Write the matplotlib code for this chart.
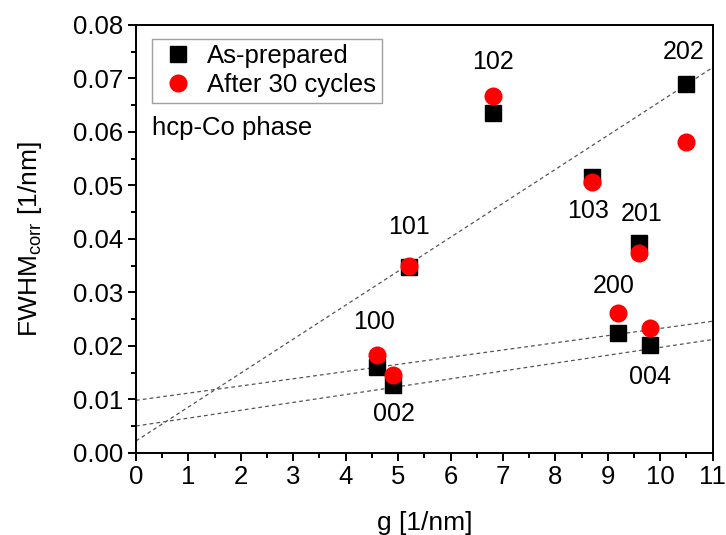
import matplotlib
matplotlib.use("Agg")
import matplotlib.pyplot as plt
from matplotlib.ticker import MultipleLocator

plt.rcParams['font.family'] = ['Liberation Sans', 'DejaVu Sans']
plt.rcParams['mathtext.fontset'] = 'custom'
plt.rcParams['mathtext.rm'] = 'Liberation Sans'

# --- Data ---------------------------------------------------------------------
reflections = ["100", "002", "101", "102", "103", "200", "201", "004", "202"]
g_values    = [4.6, 4.9, 5.2, 6.8, 8.7, 9.2, 9.6, 9.8, 10.5]
fwhm_asprep = [0.0160, 0.0127, 0.0347, 0.0635, 0.0515, 0.0224, 0.0393, 0.0201, 0.0690]
fwhm_cycled = [0.0182, 0.0145, 0.0350, 0.0668, 0.0507, 0.0262, 0.0374, 0.0234, 0.0582]

# fitted guide lines (intercept, slope)
fit_lines = [(0.0022, 0.00635), (0.0098, 0.001345), (0.0050, 0.00147)]

# label positions for each reflection (g, fwhm)
label_pos = {"100": (4.55, 0.0245), "002": (4.92, 0.0072), "101": (5.2, 0.0422),
             "102": (6.8, 0.0731), "103": (8.63, 0.0452), "200": (9.12, 0.0312),
             "201": (9.65, 0.0446), "004": (9.8, 0.0141), "202": (10.45, 0.0749)}

# --- Plot ---------------------------------------------------------------------
fig = plt.figure(figsize=(7.26, 5.35), dpi=100)
ax = fig.add_axes([0.1873, 0.1538, 0.7944, 0.7995])

xs = [0, 11]
for b, m in fit_lines:
    ax.plot(xs, [b + m * x for x in xs], color="#555555", linewidth=0.9,
            linestyle=(0, (3, 2.5)), zorder=1)

ax.plot(g_values, fwhm_asprep, "s", color="black", markersize=12,
        label="As-prepared", zorder=2)
ax.plot(g_values, fwhm_cycled, "o", color="red", markersize=13,
        markeredgewidth=0, label="After 30 cycles", zorder=3)

for name in reflections:
    px, py = label_pos[name]
    ax.text(px, py, name, fontsize=18, ha="center", va="center")

ax.text(0.3, 0.0607, "hcp-Co phase", fontsize=18.5, ha="left", va="center")

ax.set_xlim(0, 11)
ax.set_ylim(0, 0.08)
ax.xaxis.set_major_locator(MultipleLocator(1))
ax.xaxis.set_minor_locator(MultipleLocator(0.5))
ax.yaxis.set_major_locator(MultipleLocator(0.01))
ax.yaxis.set_minor_locator(MultipleLocator(0.005))
ax.yaxis.set_major_formatter(matplotlib.ticker.FormatStrFormatter("%.2f"))

for s in ax.spines.values():
    s.set_linewidth(1.4)
ax.tick_params(which="major", direction="out", length=6, width=1.4,
               labelsize=18.5, pad=3)
ax.tick_params(which="minor", direction="out", length=3.5, width=1.4)

ax.set_xlabel("g [1/nm]", fontsize=19, labelpad=16)
ax.set_ylabel(r"FWHM$_{\mathrm{corr}}$ [1/nm]", fontsize=19, labelpad=21)

leg = ax.legend(loc="upper left", bbox_to_anchor=(0.027, 0.968), fontsize=18.5,
                frameon=True, fancybox=False, borderpad=0.22, handletextpad=0.35,
                labelspacing=0.2, handlelength=1.6, borderaxespad=0)
leg.get_frame().set_edgecolor("#888888")
leg.get_frame().set_linewidth(1.0)

fig.savefig("out.png", dpi=100)
